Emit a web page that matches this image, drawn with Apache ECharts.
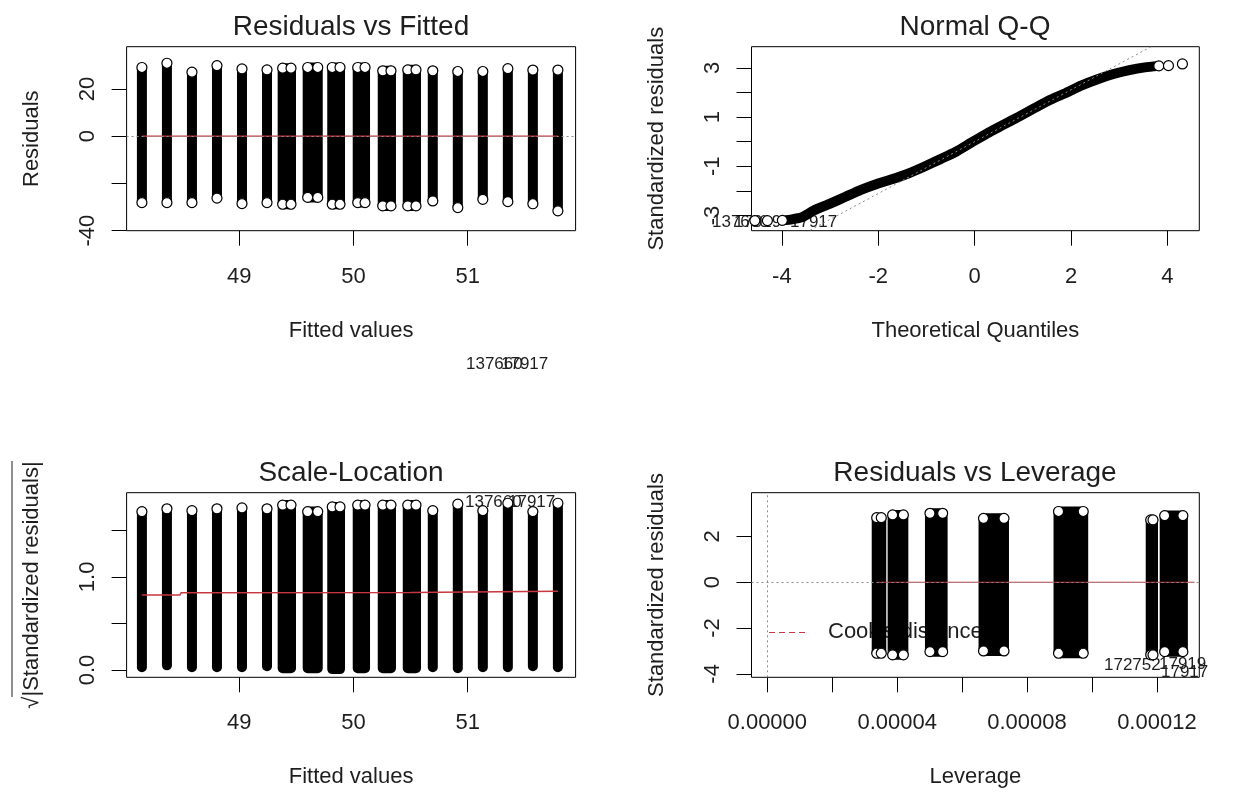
<!DOCTYPE html>
<html>
<head>
<meta charset="utf-8">
<script src="https://cdn.jsdelivr.net/npm/echarts@6/dist/echarts.min.js"></script>
<style>
  html, body { margin: 0; padding: 0; background: #fff; }
  #chart { width: 1235px; height: 792px; }
</style>
</head>
<body>
<div id="chart"></div>
<script>
// ---- Residuals vs Fitted / Scale-Location: one column of observations per fitted value group
const fittedStart = [48.148, 48.367, 48.586, 48.805, 49.024, 49.243, 49.380, 49.599, 49.814, 50.037, 50.256, 50.475, 50.694, 50.913, 51.132, 51.351, 51.570, 51.789];
const fittedEnd   = [48.148, 48.367, 48.586, 48.805, 49.024, 49.243, 49.453, 49.687, 49.882, 50.101, 50.328, 50.547, 50.694, 50.913, 51.132, 51.351, 51.570, 51.789];
const residMax = [29.1, 30.9, 27.1, 29.9, 28.5, 28.1, 28.8, 29.1, 29.1, 29.1, 27.7, 28.1, 27.7, 27.4, 27.4, 28.6, 28.0, 28.0];
const residMin = [-28.1, -28.1, -28.1, -26.2, -28.5, -28.1, -28.8, -25.9, -28.8, -28.1, -29.5, -29.5, -27.4, -30.2, -26.7, -27.7, -28.6, -31.6];
const sqrtStdMax = [1.70, 1.73, 1.71, 1.73, 1.74, 1.73, 1.77, 1.70, 1.75, 1.77, 1.77, 1.77, 1.71, 1.78, 1.71, 1.79, 1.70, 1.79];
const sqrtStdMin = [0.03, 0.05, 0.03, 0.03, 0.03, 0.04, 0.02, 0.02, 0.01, 0.02, 0.02, 0.02, 0.03, 0.02, 0.03, 0.03, 0.04, 0.03];

// loess smoothers (red)
const rvfSmoothX = [48.148, 51.789];
const rvfSmoothY = [0.0, 0.0];
const slSmoothX = [48.148, 48.48, 48.49, 50.50, 50.51, 51.789];
const slSmoothY = [0.804, 0.804, 0.829, 0.833, 0.843, 0.845];

// ---- Normal Q-Q
const qqTheo  = [-4.56, -4.30, -3.99, -3.79, -3.58, -3.34, -3.01, -2.68, -2.36, -2.03, -1.70, -1.37, -1.05, -0.72, -0.39, -0.07, 0.26, 0.59, 0.92, 1.24, 1.57, 1.90, 2.22, 2.55, 2.88, 3.21, 3.53, 3.82, 4.02, 4.31];
const qqResid = [-3.21, -3.21, -3.20, -3.16, -3.07, -2.80, -2.53, -2.24, -1.96, -1.72, -1.52, -1.29, -1.02, -0.72, -0.41, -0.04, 0.34, 0.68, 1.02, 1.36, 1.70, 1.99, 2.29, 2.54, 2.75, 2.91, 3.02, 3.08, 3.09, 3.16];
const qqRefX = [-4.6, 4.6];
const qqRefY = [-4.85, 4.85];

// ---- Residuals vs Leverage
const levStart = [3.37e-5, 3.86e-5, 5.01e-5, 6.66e-5, 8.97e-5, 1.181e-4, 1.224e-4];
const levEnd   = [3.51e-5, 4.19e-5, 5.40e-5, 7.29e-5, 9.73e-5, 1.188e-4, 1.280e-4];
const levStdMax = [2.82, 2.94, 3.01, 2.79, 3.09, 2.72, 2.91];
const levStdMin = [-3.10, -3.17, -3.03, -3.00, -3.10, -3.17, -3.03];
const rvlSmoothX = [3.37e-5, 1.316e-4];
const rvlSmoothY = [0.0, 0.0];

// ---- tick marks and labels
const fittedTicks = [49, 50, 51];
const residTicks = [-40, -20, 0, 20];
const residLabels = [-40, 0, 20];
const theoTicks = [-4, -2, 0, 2, 4];
const stdTicks = [-3, -2, -1, 0, 1, 2, 3];
const stdLabels = [-3, -1, 1, 3];
const sqrtTicks = [0, 0.5, 1.0, 1.5];
const sqrtLabels = [0, 1.0];
const levTicks = [0, 0.00002, 0.00004, 0.00006, 0.00008, 0.0001, 0.00012];
const levLabels = [0, 0.00004, 0.00008, 0.00012];
const levStdTicks = [-4, -2, 0, 2];

// observation ids printed next to extreme points
const idsLow = ['137660', '17919', '17917'];
const idsLev = ['172752', '17919', '17917'];

const FONT = '"Liberation Sans", Arial, Helvetica, sans-serif';
const INK = '#1e1e1e';
const RED = '#c8363f';

function stripes(x0, x1, lo, hi) {
  return x0.map((x, i) => [x, x1[i], lo[i], hi[i]]);
}
function endPoints(x0, x1, lo, hi, withLow) {
  const pts = [];
  x0.forEach((x, i) => {
    const xs = x === x1[i] ? [x] : [x, x1[i]];
    xs.forEach(v => {
      pts.push([v, hi[i]]);
      if (withLow) pts.push([v, lo[i]]);
    });
  });
  return pts;
}
function zip(a, b) { return a.map((v, i) => [v, b[i]]); }

const R = 5; // symbol radius in px
function renderStripe(params, api) {
  const top = api.coord([api.value(0), api.value(3)]);
  const bot = api.coord([api.value(1), api.value(2)]);
  return {
    type: 'rect',
    shape: { x: top[0] - R, y: top[1] - R, width: bot[0] - top[0] + 2 * R, height: bot[1] - top[1] + 2 * R, r: R },
    style: { fill: '#000' }
  };
}

function xAxisCfg(grid, min, max, ticks, labels, fmt, name) {
  return {
    type: 'value', gridIndex: grid, min: min, max: max,
    name: name, nameLocation: 'middle', nameGap: 89,
    nameTextStyle: { fontFamily: FONT, fontSize: 22, color: INK },
    axisLine: { show: false, onZero: false }, splitLine: { show: false },
    axisTick: { show: true, length: 15, customValues: ticks, lineStyle: { color: '#000', width: 1 } },
    axisLabel: { customValues: labels, formatter: fmt, margin: 35, fontFamily: FONT, fontSize: 22, color: INK }
  };
}
function yAxisCfg(grid, min, max, ticks, labels, fmt, name) {
  return {
    type: 'value', gridIndex: grid, min: min, max: max,
    name: name, nameLocation: 'middle', nameGap: 84, nameRotate: 90,
    nameTextStyle: { fontFamily: FONT, fontSize: 22, color: INK },
    axisLine: { show: false, onZero: false }, splitLine: { show: false },
    axisTick: { show: true, length: 15, customValues: ticks, lineStyle: { color: '#000', width: 1 } },
    axisLabel: { customValues: labels, formatter: fmt, rotate: 90, margin: 28, fontFamily: FONT, fontSize: 22, color: INK }
  };
}
const intFmt = v => String(Math.round(v));

const chart = echarts.init(document.getElementById('chart'), null, { renderer: 'canvas' });

const circleStyle = { color: '#fff', opacity: 1, borderColor: '#000', borderWidth: 1.2 };
const dotted = { color: '#8c8c8c', width: 1, type: [2, 3] };

const option = {
  backgroundColor: '#fff',
  animation: false,
  title: [
    { text: 'Residuals vs Fitted', left: 351, top: 13, textAlign: 'center', padding: 0 },
    { text: 'Normal Q-Q', left: 975, top: 13, textAlign: 'center', padding: 0 },
    { text: 'Scale-Location', left: 351, top: 459.5, textAlign: 'center', padding: 0 },
    { text: 'Residuals vs Leverage', left: 975, top: 459.5, textAlign: 'center', padding: 0 }
  ].map(t => Object.assign(t, { textStyle: { fontFamily: FONT, fontSize: 28, fontWeight: 'normal', color: INK } })),
  grid: [
    { left: 126.6, top: 46.7, width: 449, height: 184 },
    { left: 751.5, top: 46.7, width: 447.8, height: 184 },
    { left: 126.6, top: 492.7, width: 449, height: 184.6 },
    { left: 751.5, top: 492.7, width: 447.8, height: 184.6 }
  ].map(g => Object.assign(g, { show: true, borderColor: '#000', borderWidth: 1, backgroundColor: 'transparent' })),
  xAxis: [
    xAxisCfg(0, 48.014, 51.944, fittedTicks, fittedTicks, intFmt, 'Fitted values'),
    xAxisCfg(1, -4.63, 4.66, theoTicks, theoTicks, intFmt, 'Theoretical Quantiles'),
    xAxisCfg(2, 48.014, 51.944, fittedTicks, fittedTicks, intFmt, 'Fitted values'),
    xAxisCfg(3, -4.87e-6, 1.3306e-4, levTicks, levLabels, v => v.toFixed(5), 'Leverage')
  ],
  yAxis: [
    yAxisCfg(0, -40, 37.9, residTicks, residLabels, intFmt, 'Residuals'),
    yAxisCfg(1, -3.62, 3.86, stdTicks, stdLabels, intFmt, 'Standardized residuals'),
    yAxisCfg(2, -0.078, 1.903, sqrtTicks, sqrtLabels, v => v.toFixed(1), '\u221A|Standardized residuals|'),
    yAxisCfg(3, -4.15, 3.91, levStdTicks, levStdTicks, intFmt, 'Standardized residuals')
  ],
  series: [
    // Residuals vs Fitted
    { type: 'custom', xAxisIndex: 0, yAxisIndex: 0, renderItem: renderStripe, encode: { x: [0, 1], y: [2, 3] },
      data: stripes(fittedStart, fittedEnd, residMin, residMax), z: 2 },
    { type: 'scatter', xAxisIndex: 0, yAxisIndex: 0, symbol: 'circle', symbolSize: 2 * R, itemStyle: circleStyle,
      data: endPoints(fittedStart, fittedEnd, residMin, residMax, true), z: 3 },
    { type: 'line', xAxisIndex: 0, yAxisIndex: 0, showSymbol: false, lineStyle: { color: RED, width: 1.2 },
      data: zip(rvfSmoothX, rvfSmoothY), z: 4,
      markLine: { silent: true, symbol: 'none', label: { show: false }, lineStyle: dotted, data: [{ yAxis: 0 }] } },

    // Normal Q-Q
    { type: 'line', xAxisIndex: 1, yAxisIndex: 1, showSymbol: false, smooth: 0.2,
      lineStyle: { color: '#000', width: 2 * R, cap: 'round', join: 'round' },
      data: zip(qqTheo, qqResid).slice(2, 28), z: 2 },
    { type: 'scatter', xAxisIndex: 1, yAxisIndex: 1, symbol: 'circle', symbolSize: 2 * R, itemStyle: circleStyle,
      data: zip(qqTheo, qqResid).filter((p, i) => i < 3 || i >= 27), z: 3 },
    { type: 'line', xAxisIndex: 1, yAxisIndex: 1, showSymbol: false, clip: true,
      lineStyle: dotted, data: zip(qqRefX, qqRefY), z: 4 },

    // Scale-Location
    { type: 'custom', xAxisIndex: 2, yAxisIndex: 2, renderItem: renderStripe, encode: { x: [0, 1], y: [2, 3] },
      data: stripes(fittedStart, fittedEnd, sqrtStdMin, sqrtStdMax), z: 2 },
    { type: 'scatter', xAxisIndex: 2, yAxisIndex: 2, symbol: 'circle', symbolSize: 2 * R, itemStyle: circleStyle,
      data: endPoints(fittedStart, fittedEnd, sqrtStdMin, sqrtStdMax, false), z: 3 },
    { type: 'line', xAxisIndex: 2, yAxisIndex: 2, showSymbol: false, lineStyle: { color: RED, width: 1.5 },
      data: zip(slSmoothX, slSmoothY), z: 4 },

    // Residuals vs Leverage
    { type: 'custom', xAxisIndex: 3, yAxisIndex: 3, renderItem: renderStripe, encode: { x: [0, 1], y: [2, 3] },
      data: stripes(levStart, levEnd, levStdMin, levStdMax), z: 2 },
    { type: 'scatter', xAxisIndex: 3, yAxisIndex: 3, symbol: 'circle', symbolSize: 2 * R, itemStyle: circleStyle,
      data: endPoints(levStart, levEnd, levStdMin, levStdMax, true), z: 3 },
    { type: 'line', xAxisIndex: 3, yAxisIndex: 3, showSymbol: false, lineStyle: { color: RED, width: 1.2 },
      data: zip(rvlSmoothX, rvlSmoothY), z: 4,
      markLine: { silent: true, symbol: 'none', label: { show: false }, lineStyle: dotted,
        data: [{ yAxis: 0 }, { xAxis: 0 }] } }
  ],
  graphic: [
    // observation ids
    { type: 'text', left: 466, top: 356, style: { text: idsLow[0], font: '17px ' + FONT, fill: INK } },
    { type: 'text', left: 501, top: 356, style: { text: idsLow[2], font: '17px ' + FONT, fill: INK } },
    { type: 'text', left: 712, top: 213.5, style: { text: idsLow[0], font: '17px ' + FONT, fill: INK } },
    { type: 'text', left: 734, top: 213.5, style: { text: idsLow[1], font: '17px ' + FONT, fill: INK } },
    { type: 'text', left: 790, top: 213.5, style: { text: idsLow[2], font: '17px ' + FONT, fill: INK } },
    { type: 'text', left: 465, top: 494, style: { text: idsLow[0], font: '17px ' + FONT, fill: INK } },
    { type: 'text', left: 508, top: 494, style: { text: idsLow[2], font: '17px ' + FONT, fill: INK } },
    { type: 'text', left: 1104, top: 657, style: { text: idsLev[0], font: '17px ' + FONT, fill: INK } },
    { type: 'text', left: 1159, top: 656, style: { text: idsLev[1], font: '17px ' + FONT, fill: INK } },
    { type: 'text', left: 1161, top: 664, style: { text: idsLev[2], font: '17px ' + FONT, fill: INK } },
    // Cook's distance legend
    { type: 'line', shape: { x1: 769, y1: 632.5, x2: 808, y2: 632.5 },
      style: { stroke: RED, lineWidth: 1.2, lineDash: [6, 4] } },
    { type: 'text', left: 828, top: 621, z: 0, style: { text: "Cook's distance", font: '22px ' + FONT, fill: INK } },
    // vinculum of the square root in the Scale-Location y title
    { type: 'line', shape: { x1: 12, y1: 461, x2: 12, y2: 697 }, style: { stroke: INK, lineWidth: 1 } }
  ]
};

chart.setOption(option);
</script>
</body>
</html>
